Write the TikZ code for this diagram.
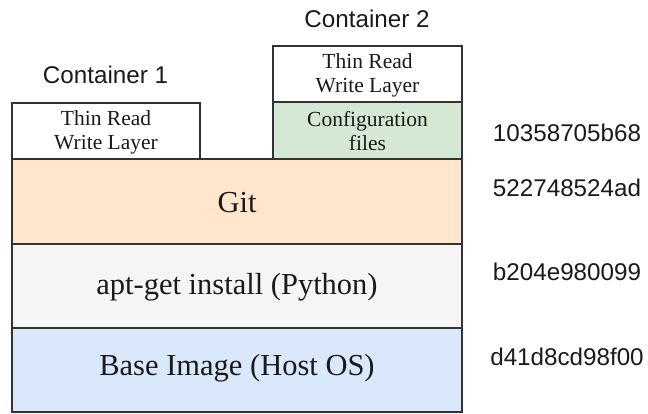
\documentclass[tikz,border=0pt]{standalone}
\usepackage{fontspec}
\setmainfont{Liberation Serif}
\newfontfamily\labelfont{Liberation Sans}
\definecolor{lineC}{HTML}{333333}
\definecolor{orangeF}{HTML}{FFE6CC}
\definecolor{greenF}{HTML}{D5E8D4}
\definecolor{grayF}{HTML}{F5F5F5}
\definecolor{blueF}{HTML}{DAE8FC}
\definecolor{textC}{HTML}{1A1A1A}
\tikzset{
  layer/.style={draw=lineC, line width=1.2pt, text=textC},
  bigtext/.style={font=\fontsize{30.5}{34}\selectfont, text=textC},
  smalltext/.style={font=\fontsize{21.5}{24}\selectfont, align=center, text=textC},
  caption/.style={font=\labelfont\fontsize{24.2}{28}\selectfont, text=textC},
}
\begin{document}
\begin{tikzpicture}[x=1pt,y=-1pt]
\useasboundingbox (0,0) rectangle (648,413);
% layers
\filldraw[layer, fill=blueF] (12,328) rectangle (462,412);
\filldraw[layer, fill=grayF] (12,244) rectangle (462,328);
\filldraw[layer, fill=orangeF] (12,159) rectangle (462,244);
\filldraw[layer, fill=white] (12,103) rectangle (200,159);
\filldraw[layer, fill=greenF] (273,102) rectangle (462,159);
\filldraw[layer, fill=white] (273,46) rectangle (462,102);
% texts
\node[bigtext] (git) at (237,203) {Git};
\node[bigtext] (apt) at (237,287) {apt-get install (Python)};
\node[bigtext] (base) at (237,368) {Base Image (Host OS)};
\node[smalltext] (rw1) at (106,132) {Thin Read\\Write Layer};
\node[smalltext] (cfg) at (367.5,131) {Configuration\\files};
\node[smalltext] (rw2) at (367.5,75) {Thin Read\\Write Layer};
\node[caption] (c1) at (105.5,75) {Container 1};
\node[caption] (c2) at (367,19) {Container 2};
\node[caption] (h1) at (567,133) {10358705b68};
\node[caption] (h2) at (567,188) {522748524ad};
\node[caption] (h3) at (567,272) {b204e980099};
\node[caption] (h4) at (567,357) {d41d8cd98f00};
\end{tikzpicture}
\end{document}
